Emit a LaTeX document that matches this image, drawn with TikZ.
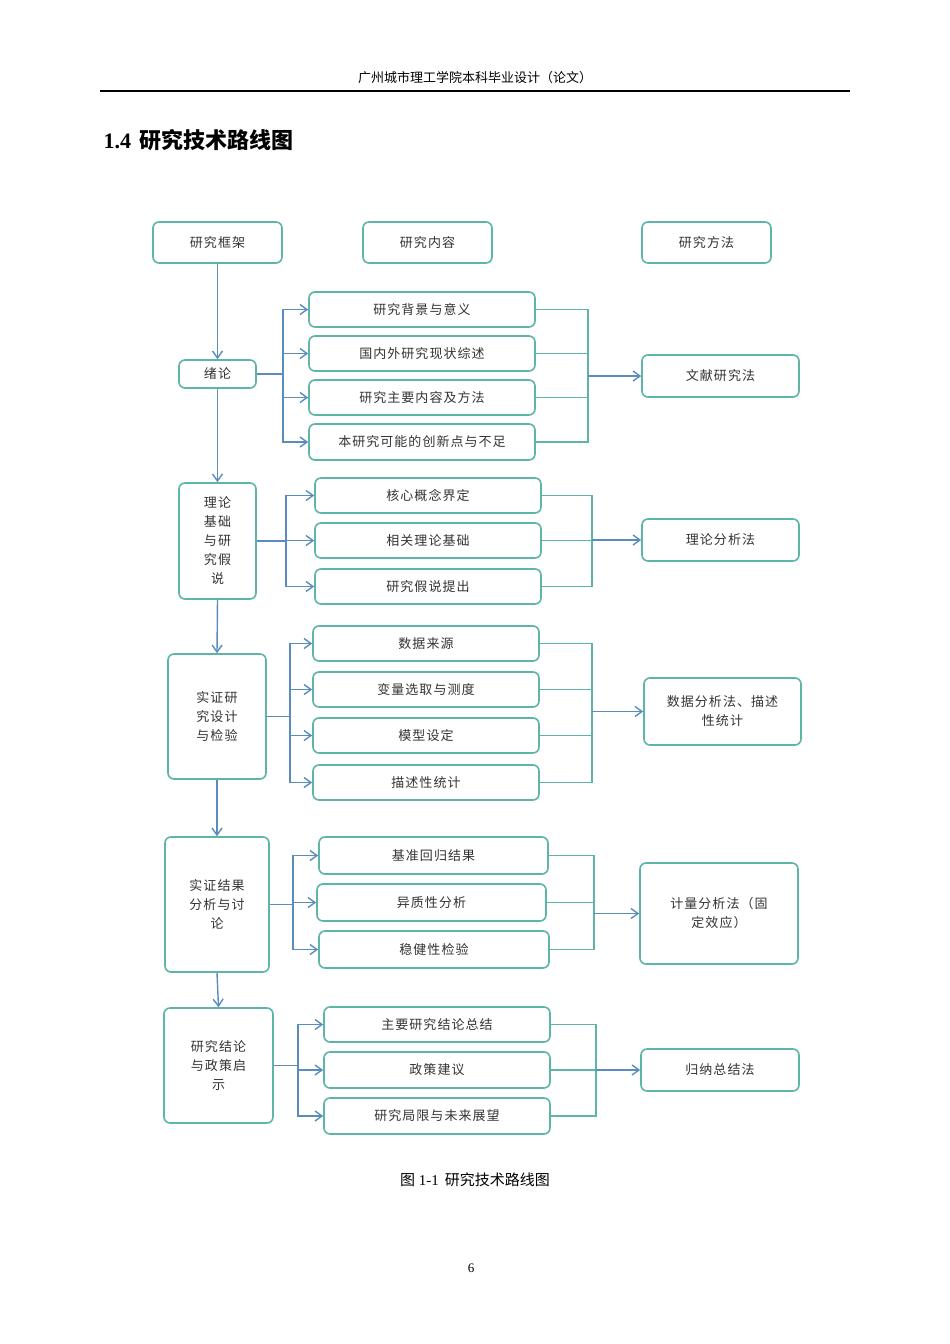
\documentclass[tikz,border=0pt]{standalone}
\usepackage{fontspec}
\setmainfont{Liberation Serif}
\newfontfamily\cjk[LetterSpace=8]{Noto Sans CJK SC}
\newfontfamily\cjkb{Noto Sans CJK SC}
\usetikzlibrary{arrows.meta}
\definecolor{bteal}{HTML}{5DB5A8}
\definecolor{bblue}{HTML}{5A8DBE}
\tikzset{
 box/.style={draw=bteal,line width=1.6pt,rounded corners=6pt,inner sep=0pt,align=center,font=\cjk\fontsize{13}{19}\selectfont,text=black!80},
 arr/.style={draw=bblue,line width=1.4pt,-{Straight Barb[length=7pt,width=10pt]}},
 tl/.style={draw=bteal,line width=1.4pt},
}
\newcommand\bx[6]{\pgfmathsetmacro\w{#4-#2}\pgfmathsetmacro\h{#5-#3}\pgfmathsetmacro\cx{(#2+#4)/2}\pgfmathsetmacro\cy{(#3+#5)/2}\node[box,minimum width=\w pt,minimum height=\h pt] (#1) at (\cx,\cy) {#6};}
\begin{document}
\begin{tikzpicture}[x=1pt,y=-1pt]
\useasboundingbox (0,0) rectangle (950,1344);
\fill[white] (0,0) rectangle (950,1344);
\node[font=\cjkb\fontsize{13}{15}\selectfont] (hd) at (475,78) {广州城市理工学院本科毕业设计（论文）};
\draw[line width=1.6pt] (100,91) -- (850,91);
\node[anchor=west,font=\bfseries\fontsize{22}{24}\selectfont] (tt) at (100,140) {1.4\hspace{8pt}{\cjkb\bfseries 研究技术路线图}};
% headers
\bx{h1}{153}{222}{282}{263}{研究框架}
\bx{h2}{363}{222}{492}{263}{研究内容}
\bx{h3}{642}{222}{771}{263}{研究方法}
% left column
\bx{s1}{179}{360}{256}{388}{绪论}
\bx{s2}{179}{483}{256}{599}{理论\\基础\\与研\\究假\\说}
\bx{s3}{168}{654}{266}{779}{实证研\\究设计\\与检验}
\bx{s4}{165}{837}{269}{972}{实证结果\\分析与讨\\论}
\bx{s5}{164}{1008}{273}{1123}{研究结论\\与政策启\\示}
% methods
\bx{m1}{642}{355}{799}{397}{文献研究法}
\bx{m2}{642}{519}{799}{561}{理论分析法}
\bx{m3}{644}{678}{801}{745}{数据分析法、描述\\性统计}
\bx{m4}{640}{863}{798}{964}{计量分析法（固\\定效应）}
\bx{m5}{641}{1049}{799}{1091}{归纳总结法}
% group 1
\bx{a1}{309}{292}{535}{327}{研究背景与意义}
\bx{a2}{309}{336}{535}{371}{国内外研究现状综述}
\bx{a3}{309}{380}{535}{415}{研究主要内容及方法}
\bx{a4}{309}{424}{535}{460}{本研究可能的创新点与不足}
% group 2
\bx{b1}{315}{478}{541}{513}{核心概念界定}
\bx{b2}{315}{523}{541}{558}{相关理论基础}
\bx{b3}{315}{569}{541}{604}{研究假说提出}
% group 3
\bx{c1}{313}{626}{539}{661}{数据来源}
\bx{c2}{313}{672}{539}{707}{变量选取与测度}
\bx{c3}{313}{718}{539}{753}{模型设定}
\bx{c4}{313}{765}{539}{800}{描述性统计}
% group 4
\bx{d1}{319}{837}{548}{874}{基准回归结果}
\bx{d2}{317}{884}{546}{921}{异质性分析}
\bx{d3}{319}{931}{549}{968}{稳健性检验}
% group 5
\bx{e1}{324}{1007}{550}{1042}{主要研究结论总结}
\bx{e2}{324}{1052}{550}{1088}{政策建议}
\bx{e3}{324}{1098}{550}{1134}{研究局限与未来展望}
% vertical
\draw[arr] (h1.south) -- (s1.north);
\draw[arr] (s1.south) -- (s2.north);
\draw[arr] (s2.south) -- (s3.north);
\draw[arr] (s3.south) -- (s4.north);
\draw[arr] (s4.south) -- (s5.north);
% trunks & collectors
\coordinate (t1) at (283,374); \coordinate (k1) at (588,376);
\coordinate (t2) at (286,541); \coordinate (k2) at (592,540);
\coordinate (t3) at (290,716.5); \coordinate (k3) at (592,711.5);
\coordinate (t4) at (293,904.5); \coordinate (k4) at (594,913.5);
\coordinate (t5) at (298,1065.5); \coordinate (k5) at (596,1070);
\foreach \b in {a1,a2,a3,a4}{\draw[arr] (s1.east) -- (t1) |- (\b.west); \draw[tl] (\b.east) -| (k1);}
\draw[arr] (k1) -- (m1.west);
\foreach \b in {b1,b2,b3}{\draw[arr] (s2.east) -- (t2) |- (\b.west); \draw[tl] (\b.east) -| (k2);}
\draw[arr] (k2) -- (m2.west);
\foreach \b in {c1,c2,c3,c4}{\draw[arr] (s3.east) -- (t3) |- (\b.west); \draw[tl] (\b.east) -| (k3);}
\draw[arr] (k3) -- (m3.west);
\foreach \b in {d1,d2,d3}{\draw[arr] (s4.east) -- (t4) |- (\b.west); \draw[tl] (\b.east) -| (k4);}
\draw[arr] (k4) -- (m4.west);
\foreach \b in {e1,e2,e3}{\draw[arr] (s5.east) -- (t5) |- (\b.west); \draw[tl] (\b.east) -| (k5);}
\draw[arr] (k5) -- (m5.west);
\node[font=\fontsize{15}{17}\selectfont] (cap) at (475,1180) {{\cjkb 图} 1-1\hspace{6pt}{\cjkb 研究技术路线图}};
\node[font=\fontsize{13}{15}\selectfont] (pg) at (471,1268) {6};
\end{tikzpicture}
\end{document}
